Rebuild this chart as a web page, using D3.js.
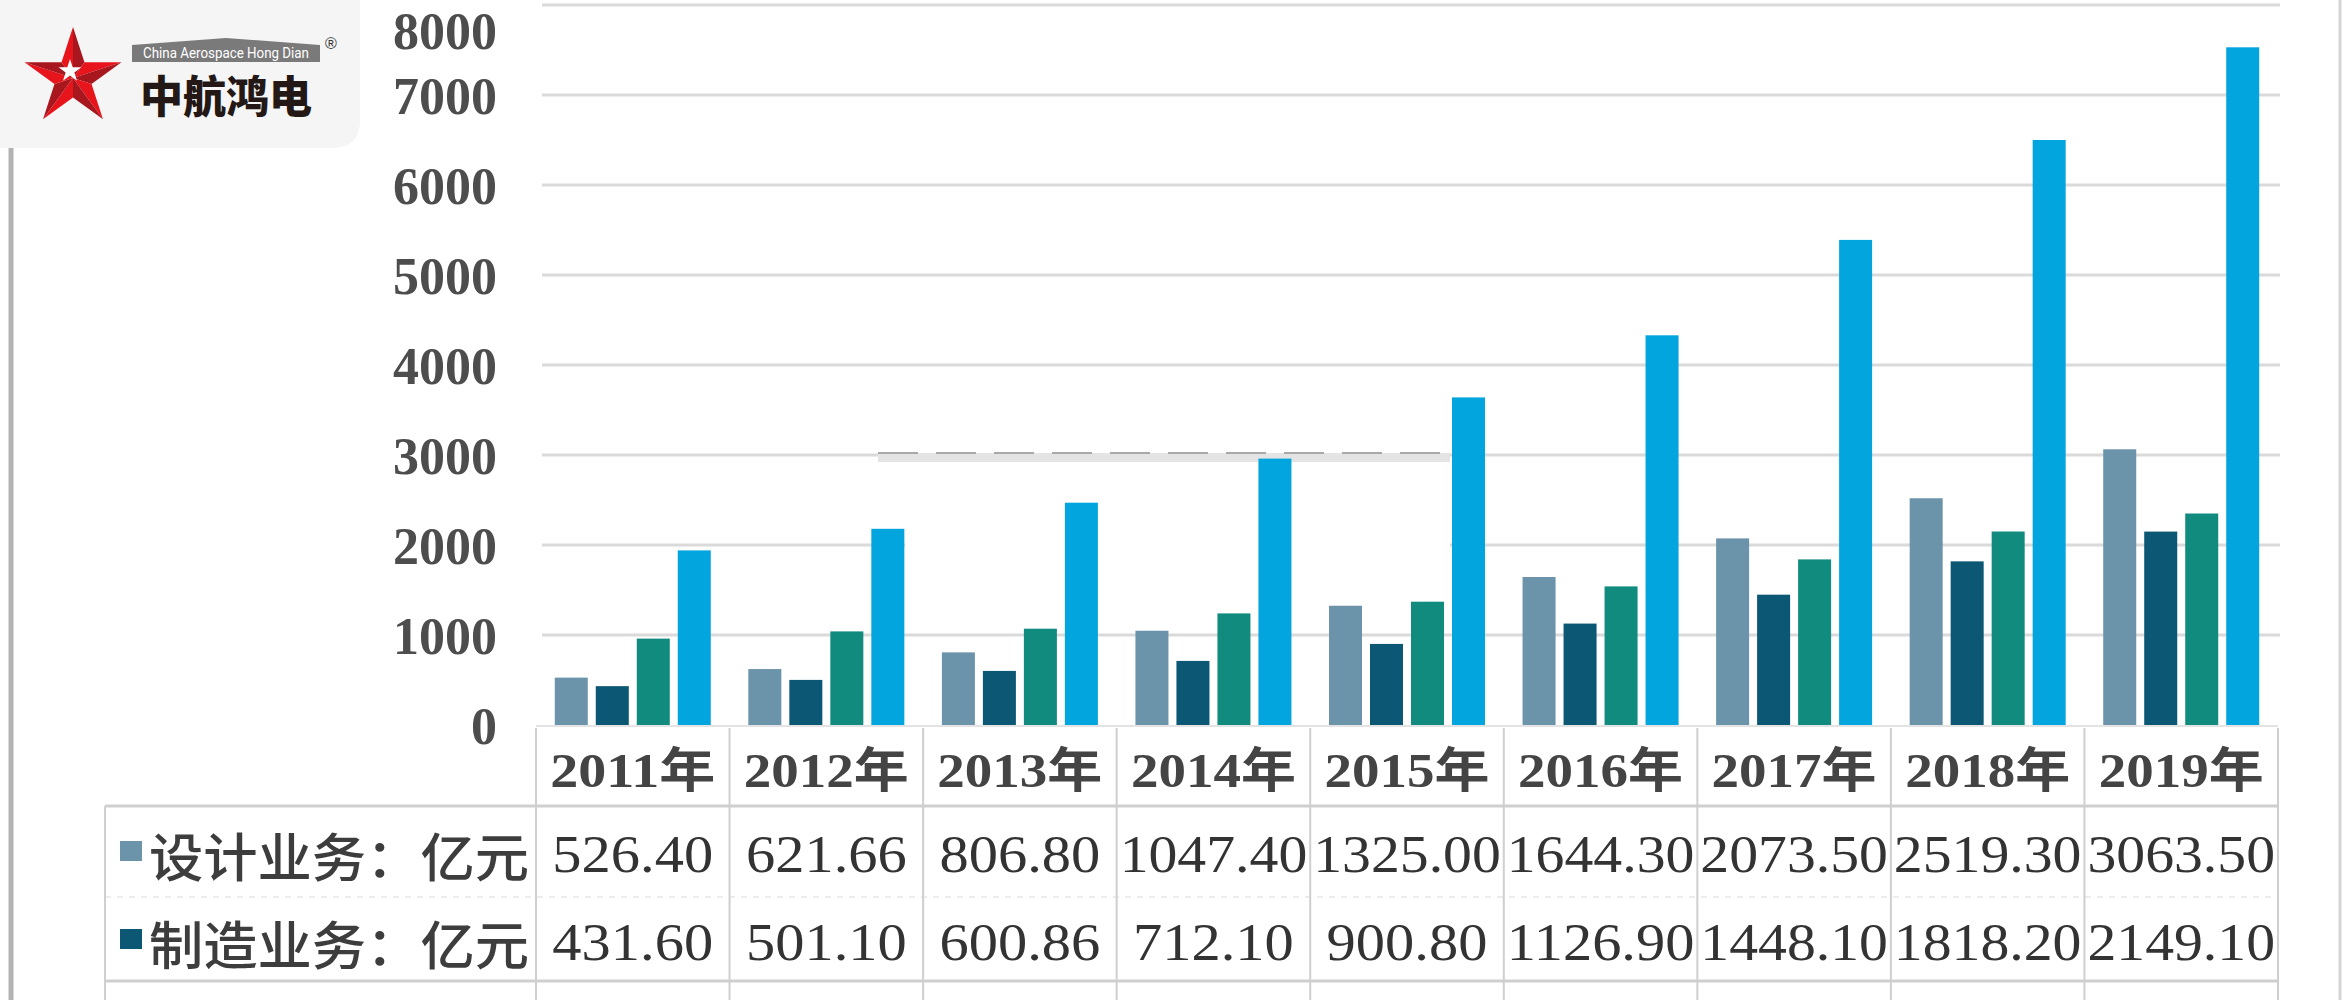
<!DOCTYPE html>
<html>
<head>
<meta charset="utf-8">
<script src="https://cdn.jsdelivr.net/npm/d3@7"></script>
<style>
  html, body { margin: 0; padding: 0; background: #ffffff; }
  svg { display: block; }
</style>
</head>
<body>
<svg id="chart" width="2350" height="1000"></svg>
<script>
// ---------------- DATA ----------------
const categories = ["2011年", "2012年", "2013年", "2014年", "2015年", "2016年", "2017年", "2018年", "2019年"];
const seriesKeys = ["design", "manufacturing", "series3", "series4"];
const designLabel = "设计业务：亿元";
const manufacturingLabel = "制造业务：亿元";
const designValues = [526.40, 621.66, 806.80, 1047.40, 1325.00, 1644.30, 2073.50, 2519.30, 3063.50];
const manufacturingValues = [431.60, 501.10, 600.86, 712.10, 900.80, 1126.90, 1448.10, 1818.20, 2149.10];
const series3Values = [960, 1040, 1070, 1240, 1370, 1540, 1840, 2150, 2350];
const series4Values = [1940, 2180, 2470, 2960, 3640, 4330, 5390, 6500, 7530];
const yTicks = [0, 1000, 2000, 3000, 4000, 5000, 6000, 7000, 8000];

// ---------------- STYLE ----------------
const colors = { design: "#6b93aa", manufacturing: "#0c5774", series3: "#108b7e", series4: "#03a5de" };
const serif = "'Liberation Serif', 'Times New Roman', 'Noto Sans CJK SC', serif";
const cjk = "'Noto Sans CJK SC', sans-serif";

const svg = d3.select("#chart");
const W = 2350, H = 1000;
svg.append("rect").attr("width", W).attr("height", H).attr("fill", "#ffffff");

// ---------------- SCALES ----------------
const plotLeft = 536, plotRight = 2278;
const x0 = d3.scaleBand().domain(categories).range([plotLeft, plotRight]);
const x1 = d3.scaleBand().domain(seriesKeys).range([0, x0.bandwidth()])
  .paddingInner(0.195).paddingOuter(0.458);
const y = d3.scaleLinear().domain([0, 8000]).range([725, 5]);

// ---------------- FRAME LINES ----------------
svg.append("line").attr("x1", 11).attr("x2", 11).attr("y1", 148).attr("y2", H)
  .attr("stroke", "#b3b3b3").attr("stroke-width", 5);
svg.append("line").attr("x1", 2340).attr("x2", 2340).attr("y1", 0).attr("y2", H)
  .attr("stroke", "#d4d4d4").attr("stroke-width", 3);

// ---------------- GRIDLINES ----------------
svg.append("g").selectAll("line").data(yTicks.filter(t => t > 0)).join("line")
  .attr("x1", 542).attr("x2", 2280)
  .attr("y1", d => y(d)).attr("y2", d => y(d))
  .attr("stroke", "#dadada").attr("stroke-width", 3);

// artefacts of the source picture (covered areas)
svg.append("rect").attr("x", 878).attr("y", y(3000) - 2).attr("width", 572).attr("height", 9).attr("fill", "#e4e4e4");
svg.append("line").attr("x1", 878).attr("x2", 1450).attr("y1", y(3000) - 2).attr("y2", y(3000) - 2)
  .attr("stroke", "#a9a9a9").attr("stroke-width", 2).attr("stroke-dasharray", "40 18");
const covers = [[878, 462, 382, 41], [905, 532, 163, 51], [1095, 525, 165, 65], [1291, 462, 159, 61], [1291, 528, 159, 54]];
svg.append("g").selectAll("rect").data(covers).join("rect")
  .attr("x", d => d[0]).attr("y", d => d[1]).attr("width", d => d[2]).attr("height", d => d[3])
  .attr("fill", "#ffffff");

// ---------------- Y AXIS ----------------
const yAxis = svg.append("g").attr("transform", "translate(497,0)")
  .call(d3.axisLeft(y).tickValues(yTicks).tickSize(0).tickPadding(0).tickFormat(d3.format("d")));
yAxis.select(".domain").remove();
yAxis.selectAll("text")
  .attr("font-family", serif).attr("font-size", 52).attr("font-weight", "bold")
  .attr("fill", "#4d4d4d").attr("dy", d => d === 8000 ? "0.84em" : "0.35em");

// ---------------- BARS ----------------
const valuesByKey = { design: designValues, manufacturing: manufacturingValues, series3: series3Values, series4: series4Values };
const rows = categories.map((c, i) => ({ cat: c, vals: seriesKeys.map(k => ({ key: k, value: valuesByKey[k][i] })) }));
const groups = svg.append("g").selectAll("g").data(rows).join("g")
  .attr("transform", d => `translate(${x0(d.cat)},0)`);
groups.selectAll("rect").data(d => d.vals).join("rect")
  .attr("x", d => x1(d.key)).attr("width", x1.bandwidth())
  .attr("y", d => y(d.value)).attr("height", d => y(0) - y(d.value))
  .attr("fill", d => colors[d.key]);

// ---------------- TABLE ----------------
const tableLeft = 105;
const lineColor = "#cfcfcf";
svg.append("line").attr("x1", plotLeft).attr("x2", plotRight).attr("y1", 726).attr("y2", 726)
  .attr("stroke", "#e3e3e3").attr("stroke-width", 2);
[806, 981].forEach(yy => {
  svg.append("line").attr("x1", tableLeft).attr("x2", plotRight).attr("y1", yy).attr("y2", yy)
    .attr("stroke", lineColor).attr("stroke-width", 3);
});
svg.append("line").attr("x1", tableLeft).attr("x2", plotRight).attr("y1", 897).attr("y2", 897)
  .attr("stroke", "#ececec").attr("stroke-width", 2).attr("stroke-dasharray", "6 6");
svg.append("line").attr("x1", tableLeft).attr("x2", tableLeft).attr("y1", 806).attr("y2", H)
  .attr("stroke", lineColor).attr("stroke-width", 2);
const colEdges = categories.map(c => x0(c)).concat([plotRight]);
svg.append("g").selectAll("line").data(colEdges).join("line")
  .attr("x1", d => d).attr("x2", d => d).attr("y1", 728).attr("y2", H)
  .attr("stroke", lineColor).attr("stroke-width", 2);

// category labels
svg.append("g").selectAll("text").data(categories).join("text")
  .attr("x", d => x0(d) + x0.bandwidth() / 2).attr("y", 770)
  .attr("text-anchor", "middle").attr("dominant-baseline", "central")
  .attr("font-family", serif).attr("font-size", 48).attr("font-weight", "bold")
  .attr("fill", "#444444")
  .attr("textLength", 165).attr("lengthAdjust", "spacingAndGlyphs")
  .text(d => d);

// row headers
const tableRows = [
  { label: designLabel, key: "design", values: designValues, cy: 854 },
  { label: manufacturingLabel, key: "manufacturing", values: manufacturingValues, cy: 942 }
];
const fmt = d3.format(".2f");
tableRows.forEach(r => {
  svg.append("rect").attr("x", 120).attr("y", r.cy - 13).attr("width", 22).attr("height", 20)
    .attr("fill", colors[r.key]);
  svg.append("text").attr("x", 149).attr("y", r.cy)
    .attr("dominant-baseline", "central")
    .attr("font-family", cjk).attr("font-size", 52).attr("font-weight", 500)
    .attr("fill", "#3d3d3d")
    .attr("textLength", 380).attr("lengthAdjust", "spacingAndGlyphs")
    .text(r.label);
  svg.append("g").selectAll("text").data(r.values).join("text")
    .attr("x", (d, i) => x0(categories[i]) + x0.bandwidth() / 2)
    .attr("y", r.cy)
    .attr("text-anchor", "middle").attr("dominant-baseline", "central")
    .attr("font-family", serif).attr("font-size", 52)
    .attr("fill", "#333333")
    .attr("textLength", d => fmt(d).length * 26.8).attr("lengthAdjust", "spacingAndGlyphs")
    .text(d => fmt(d));
});

// ---------------- LOGO ----------------
const logo = svg.append("g");
logo.append("path").attr("d", "M0,0 H360 V120 Q360,148 332,148 H0 Z").attr("fill", "#f5f5f5");
const cx = 73, cy = 78, R = 51, r = R * 0.382;
const pt = (ang, rad) => [cx + rad * Math.cos(ang * Math.PI / 180), cy + rad * Math.sin(ang * Math.PI / 180)];
for (let i = 0; i < 5; i++) {
  const a = -90 + 72 * i;
  const O = pt(a, R), IL = pt(a - 36, r), IR = pt(a + 36, r), C = [cx, cy];
  logo.append("polygon").attr("points", [C, O, IL].map(p => p.join(",")).join(" ")).attr("fill", "#e8141c");
  logo.append("polygon").attr("points", [C, O, IR].map(p => p.join(",")).join(" ")).attr("fill", "#a8161e");
}
const wcx = 70, wcy = 71, WR = 12, wr = WR * 0.382;
const wpts = d3.range(10).map(k => {
  const ang = (-90 + 36 * k) * Math.PI / 180, rad = k % 2 ? wr : WR;
  return [wcx + rad * Math.cos(ang), wcy + rad * Math.sin(ang)].join(",");
}).join(" ");
logo.append("polygon").attr("points", wpts).attr("fill", "#ffffff");
logo.append("polygon").attr("points", "132,45 226,38 320,45 320,62 132,62").attr("fill", "#7a7a7a");
logo.append("text").attr("x", 226).attr("y", 53).attr("text-anchor", "middle").attr("dominant-baseline", "central")
  .attr("font-family", "Roboto, 'Liberation Sans', sans-serif").attr("font-size", 15).attr("fill", "#ffffff")
  .attr("textLength", 166).attr("lengthAdjust", "spacingAndGlyphs").text("China Aerospace Hong Dian");
logo.append("text").attr("x", 331).attr("y", 43).attr("text-anchor", "middle").attr("dominant-baseline", "central")
  .attr("font-family", "'Liberation Sans', sans-serif").attr("font-size", 16).attr("fill", "#333").text("®");
logo.append("text").attr("x", 140).attr("y", 94).attr("dominant-baseline", "central")
  .attr("font-family", cjk).attr("font-size", 44).attr("font-weight", 900).attr("fill", "#231815")
  .attr("textLength", 172).attr("lengthAdjust", "spacingAndGlyphs").text("中航鸿电");
</script>
</body>
</html>
